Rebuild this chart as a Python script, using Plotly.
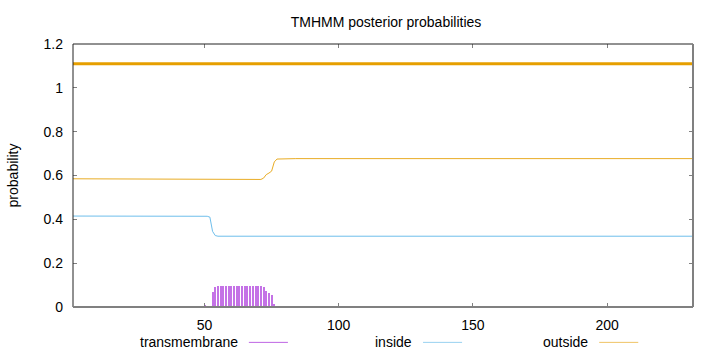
import plotly.graph_objects as go

# ---- data ----
seq_range = [1, 232]
x_ticks = [50, 100, 150, 200]
y_ticks = [0, 0.2, 0.4, 0.6, 0.8, 1.0, 1.2]
y_tick_text = ["0", "0.2", "0.4", "0.6", "0.8", "1", "1.2"]

tm_x = [50, 51, 52, 53, 54, 55, 56, 57, 58, 59, 60, 61, 62, 63, 64, 65, 66, 67,
        68, 69, 70, 71, 72, 73, 74, 75, 76, 77]
tm_y = [0.005, 0.001, 0.003, 0.069, 0.090, 0.095, 0.095, 0.095, 0.095, 0.095,
        0.095, 0.095, 0.095, 0.095, 0.095, 0.095, 0.095, 0.095, 0.095, 0.095,
        0.095, 0.095, 0.090, 0.073, 0.066, 0.057, 0.015, 0.003]

inside_x = [1, 50, 51, 52, 53, 54, 55, 232]
inside_y = [0.415, 0.415, 0.414, 0.410, 0.345, 0.326, 0.323, 0.323]

outside_x = [1, 50, 52, 55, 71, 72, 73, 74, 75, 76, 77, 84, 232]
outside_y = [0.585, 0.585, 0.584, 0.582, 0.582, 0.588, 0.604, 0.611, 0.620,
             0.662, 0.675, 0.677, 0.677]

topology_x = [1, 232]
topology_y = [1.11, 1.11]

legend_names = ["transmembrane", "inside", "outside"]

C_TM = "#9400D3"
C_IN = "#56B4E9"
C_OUT = "#E69F00"

fig = go.Figure()
fig.add_trace(go.Bar(x=tm_x, y=tm_y, width=0.38, marker=dict(color=C_TM, line=dict(width=0)),
                     opacity=0.55, showlegend=False))
fig.add_trace(go.Scatter(x=inside_x, y=inside_y, mode="lines",
                         line=dict(color=C_IN, width=1), opacity=0.85, showlegend=False))
fig.add_trace(go.Scatter(x=outside_x, y=outside_y, mode="lines",
                         line=dict(color=C_OUT, width=1), opacity=0.85, showlegend=False))
fig.add_trace(go.Scatter(x=topology_x, y=topology_y, mode="lines",
                         line=dict(color=C_OUT, width=3), showlegend=False))

font = "Liberation Sans, Arial, sans-serif"
FS = 14

# borders like gnuplot
shapes = [
    dict(type="line", xref="paper", yref="paper", x0=0, x1=0, y0=0, y1=1,
         line=dict(color="#222222", width=1)),
    dict(type="line", xref="paper", yref="paper", x0=0, x1=1, y0=1, y1=1,
         line=dict(color="#222222", width=1)),
    dict(type="line", xref="paper", yref="paper", x0=1, x1=1, y0=0, y1=1,
         line=dict(color="#808080", width=2)),
    dict(type="line", xref="paper", yref="paper", x0=0, x1=1, y0=0, y1=0,
         line=dict(color="#808080", width=2)),
]

# manual gnuplot-style legend: text then sample line
leg_text_right = [240, 414, 590]
leg_colors = [C_TM, C_IN, C_OUT]
annotations = []
W, H = 720, 352
L, R, T, B = 73.3, 27.3, 44.3, 45.3
pw, ph = W - L - R, H - T - B
for name, xr, col in zip(legend_names, leg_text_right, leg_colors):
    annotations.append(dict(text=name, xref="paper", yref="paper",
                            x=(xr - L) / pw, y=(H - B - 342) / ph,
                            xanchor="right", yanchor="middle", showarrow=False,
                            font=dict(family=font, size=FS, color="#000000")))
    shapes.append(dict(type="line", xref="paper", yref="paper",
                       x0=(xr + 9 - L) / pw, x1=(xr + 48 - L) / pw,
                       y0=(H - B - 342) / ph, y1=(H - B - 342) / ph,
                       line=dict(color=col, width=1), opacity=0.6))

fig.update_layout(
    width=W, height=H,
    margin=dict(l=L, r=R, t=T, b=B, pad=0),
    paper_bgcolor="white", plot_bgcolor="white",
    title=dict(text="TMHMM posterior probabilities", x=386 / W, xanchor="center",
               y=1 - 22.5 / H, yanchor="middle",
               font=dict(family=font, size=FS, color="#000000")),
    font=dict(family=font, size=FS, color="#000000"),
    bargap=0,
    shapes=shapes, annotations=annotations,
    xaxis=dict(range=seq_range, tickvals=x_ticks, ticks="inside", ticklen=4,
               tickcolor="#808080", mirror="ticks", showgrid=False, zeroline=False,
               showline=False, ticklabelstandoff=8),
    yaxis=dict(range=[0, 1.2], tickvals=y_ticks, ticktext=y_tick_text,
               ticks="inside", ticklen=4, tickcolor="#808080", mirror="ticks",
               showgrid=False, zeroline=False, showline=False, ticklabelstandoff=9,
               title=dict(text="probability", standoff=21,
                          font=dict(family=font, size=FS))),
)

fig.write_html("out.html")
